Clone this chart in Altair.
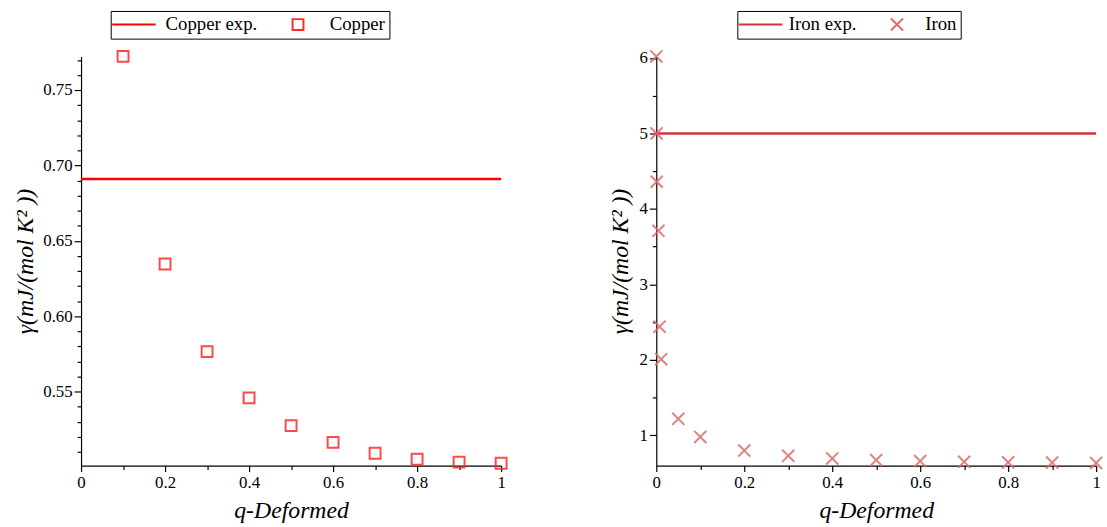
import altair as alt
import pandas as pd

FONT = "Liberation Serif"

# ---- data ----
cu_q = [0.1, 0.2, 0.3, 0.4, 0.5, 0.6, 0.7, 0.8, 0.9, 1.0]
cu_gamma = [0.7723, 0.6347, 0.5766, 0.5459, 0.5275, 0.5164, 0.5092, 0.5052, 0.5033, 0.5026]
cu_exp = 0.691
cu_names = ["Copper exp.", "Copper"]

fe_q = [0.0001, 0.0005, 0.001, 0.005, 0.0075, 0.011, 0.05, 0.1, 0.2, 0.3, 0.4,
        0.5, 0.6, 0.7, 0.8, 0.9, 1.0]
fe_gamma = [6.02, 5.0, 4.36, 3.71, 2.44, 2.01, 1.22, 0.98, 0.80, 0.73, 0.695,
            0.673, 0.66, 0.65, 0.643, 0.64, 0.635]
fe_exp = 5.0
fe_names = ["Iron exp.", "Iron"]

x_ticks = [0.0, 0.1, 0.2, 0.3, 0.4, 0.5, 0.6, 0.7, 0.8, 0.9, 1.0]
cu_y_ticks = [0.51, 0.52, 0.53, 0.54, 0.55, 0.56, 0.57, 0.58, 0.59, 0.60,
              0.61, 0.62, 0.63, 0.64, 0.65, 0.66, 0.67, 0.68, 0.69, 0.70,
              0.71, 0.72, 0.73, 0.74, 0.75, 0.76, 0.77]
fe_y_ticks = [1.0, 1.5, 2.0, 2.5, 3.0, 3.5, 4.0, 4.5, 5.0, 5.5, 6.0]

X_TITLE = "q-Deformed"
Y_TITLE = "γ(mJ/(mol K² ))"


def panel(q, g, exp, names, ydomain, yticks, ylab_test, ylab_fmt, width, height,
          line_color, marker_color, marker_shape, marker_size, line_path,
          legend_x, legend_y, y_title_pad, label_offset):
    pts = pd.DataFrame({"q": q, "gamma": g, "series": names[1]})
    ln = pd.DataFrame({"q0": [0.0], "q1": [1.0], "gamma": [exp]})
    xs = alt.Scale(domain=[0, 1], nice=False, zero=False)
    ys = alt.Scale(domain=ydomain, nice=False, zero=False)
    xaxis = alt.Axis(
        values=x_ticks,
        labelExpr="round(datum.value*10) % 2 == 0 ? format(datum.value, '~g') : ''",
        tickSize={"condition": {"test": "round(datum.value*10) % 2 == 0", "value": 6}, "value": 4},
        title=X_TITLE,
        labelPadding=3,
        titlePadding=8,
    )
    yaxis = alt.Axis(
        values=yticks,
        labelExpr=f"{ylab_test} ? format(datum.value, '{ylab_fmt}') : ''",
        tickSize={"condition": {"test": ylab_test, "value": 7}, "value": 4},
        title=Y_TITLE,
        labelPadding=2,
        titlePadding=y_title_pad,
    )
    legend = alt.Legend(
        title=None, orient="none", legendX=legend_x, legendY=legend_y,
        direction="horizontal", strokeColor="black", fillColor="white",
        padding=4, labelFont=FONT, labelFontSize=19, labelColor="black",
        symbolOffset=10, labelOffset=label_offset, columnPadding=21, symbolSize=marker_size,
        symbolStrokeWidth=2, symbolOpacity=1,
    )
    rule = alt.Chart(ln).mark_rule(color=line_color, strokeWidth=2.5).encode(
        x=alt.X("q0:Q", scale=xs, axis=xaxis),
        x2="q1:Q",
        y=alt.Y("gamma:Q", scale=ys, axis=yaxis),
    )
    points = alt.Chart(pts).mark_point(
        filled=False, size=marker_size, strokeWidth=2, opacity=0.85
    ).encode(
        x=alt.X("q:Q", scale=xs, axis=xaxis),
        y=alt.Y("gamma:Q", scale=ys, axis=yaxis),
        color=alt.Color("series:N", scale=alt.Scale(domain=names, range=[line_color, marker_color]), legend=legend),
        shape=alt.Shape("series:N", scale=alt.Scale(domain=names, range=[line_path, marker_shape]), legend=legend),
    )
    return alt.layer(rule, points).properties(width=width, height=height)


left = panel(cu_q, cu_gamma, cu_exp, cu_names, [0.501, 0.7723], cu_y_ticks,
             "round(datum.value*100) % 5 == 0", ".2f", 425, 414,
             "#ff0000", "#ff2a2a", "square", 121, "M-4,0H4", 30, -46, 5, 22.5)
right = panel(fe_q, fe_gamma, fe_exp, fe_names, [0.6, 6.02], fe_y_ticks,
              "datum.value % 1 == 0", "d", 445, 414,
              "#d2343b", "#e06a6a", "M-1,-1L1,1M-1,1L1,-1", 150, "M-3.6,0H3.6", 82, -46, 7, 19)

chart = (
    alt.hconcat(left, right, spacing=98)
    .resolve_scale(color="independent", shape="independent")
    .resolve_legend(color="independent", shape="independent")
    .properties(padding={"left": 13, "top": 7, "right": 0, "bottom": 0})
    .configure_view(stroke="transparent")
    .configure_axis(
        domainColor="black", tickColor="black", domainWidth=1.2, tickWidth=1.2,
        labelFont=FONT, labelFontSize=17, labelColor="black",
        titleFont=FONT, titleFontStyle="italic", titleFontWeight="normal",
        titleFontSize=24, titleColor="black",
        grid=False, labelOverlap=False, labelFlush=False,
    )
)

chart.save("out.html", embed_options={"renderer": "svg", "actions": False})
